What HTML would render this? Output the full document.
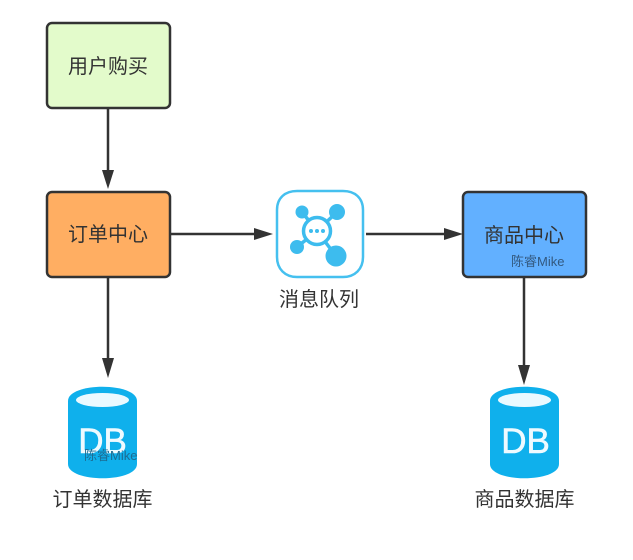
<!DOCTYPE html>
<html>
<head>
<meta charset="utf-8">
<style>
html,body{margin:0;padding:0;background:#fff;width:633px;height:560px;overflow:hidden}
svg{display:block}
text{font-family:"Liberation Sans","Noto Sans CJK SC",sans-serif}
.t{font-size:20px;fill:#333;text-anchor:middle}
.s{font-size:13px}
.db{font-size:35px;fill:#eefaff;stroke:#eefaff;stroke-width:.6;text-anchor:middle}
</style>
</head>
<body>
<svg width="633" height="560" viewBox="0 0 633 560" xmlns="http://www.w3.org/2000/svg">
<!-- connectors -->
<g stroke="#333" stroke-width="2.5" fill="none">
<line x1="108" y1="108" x2="108" y2="172"/>
<line x1="108" y1="277" x2="108" y2="360"/>
<line x1="171" y1="234" x2="256" y2="234"/>
<line x1="366" y1="234" x2="446" y2="234"/>
<line x1="524" y1="277" x2="524" y2="365"/>
</g>
<g fill="#333">
<polygon points="102,170 114,170 108,189"/>
<polygon points="102,358 114,358 108,378"/>
<polygon points="254,228 254,240 273,234"/>
<polygon points="444,228 444,240 463,234"/>
<polygon points="518,365 530,365 524,385"/>
</g>
<!-- boxes -->
<rect x="47" y="23" width="123" height="85" rx="5" fill="#e3fbcb" stroke="#333" stroke-width="2.5"/>
<rect x="47" y="192" width="123" height="85" rx="5" fill="#ffae62" stroke="#333" stroke-width="2.5"/>
<rect x="463" y="192" width="123" height="85" rx="5" fill="#62b0ff" stroke="#333" stroke-width="2.5"/>
<text class="t" x="108" y="73">用户购买</text>
<text class="t" x="108" y="241">订单中心</text>
<text class="t" x="524" y="242">商品中心</text>
<text class="s" x="511" y="266" fill="#33597f">陈睿Mike</text>
<!-- queue icon -->
<path d="M297 191 C285 191 277 198 277 210 L277 257 C277 269 285 277 297 277 L343 277 C355 277 363 269 363 257 L363 210 C363 198 355 191 343 191 Z" fill="#fff" stroke="#45c0ef" stroke-width="2.5"/>
<g stroke="#3dbcee" stroke-width="3.5" fill="none">
<line x1="302" y1="212" x2="317" y2="231"/>
<line x1="337" y1="212" x2="317" y2="231"/>
<line x1="297" y1="247" x2="317" y2="231"/>
<line x1="336" y1="256" x2="317" y2="231"/>
<circle cx="317" cy="231" r="13.500" fill="#fff" stroke-width="3.500"/>
</g>
<g fill="#3dbcee">
<circle cx="302" cy="212" r="6.500"/>
<circle cx="337" cy="212" r="8"/>
<circle cx="297" cy="247" r="7"/>
<circle cx="336" cy="256" r="10.500"/>
<circle cx="311" cy="231" r="2"/>
<circle cx="317" cy="231" r="2"/>
<circle cx="323" cy="231" r="2"/>
</g>
<text class="t" x="319" y="306">消息队列</text>
<!-- left DB -->
<path d="M68 401 C68 382 137 382 137 401 L137 464 C137 483 68 483 68 464 Z" fill="#0fb0ec"/>
<ellipse cx="102.500" cy="400" rx="26.500" ry="7" fill="#eaf9ff"/>
<text class="db" x="102.500" y="453">DB</text>
<text class="s" x="84" y="460" fill="#1c6c93">陈睿Mike</text>
<text class="t" x="102.500" y="506">订单数据库</text>
<!-- right DB -->
<path d="M490 401 C490 382 559 382 559 401 L559 464 C559 483 490 483 490 464 Z" fill="#0fb0ec"/>
<ellipse cx="524.500" cy="400" rx="26.500" ry="7" fill="#eaf9ff"/>
<text class="db" x="525.500" y="453">DB</text>
<text class="t" x="524.500" y="506">商品数据库</text>
</svg>
</body>
</html>
